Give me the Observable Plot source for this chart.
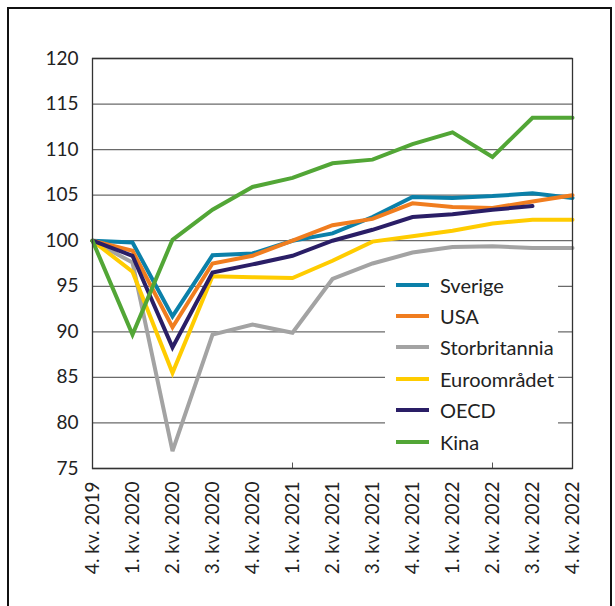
<!DOCTYPE html>
<html>
<head>
<meta charset="utf-8">
<script src="https://cdn.jsdelivr.net/npm/d3@7"></script>
<script src="https://cdn.jsdelivr.net/npm/@observablehq/plot@0.6"></script>
<style>
  html, body { margin: 0; padding: 0; background: #fff; }
  #page { position: relative; width: 615px; height: 606px; overflow: hidden; font-family: Lato, "Noto Sans", sans-serif; }
  #border { position: absolute; left: 7px; top: 7px; width: 605px; height: 640px; box-sizing: border-box; border: 2.5px solid #111; }
  #chart { position: absolute; left: 0; top: 0; }
  #legend { position: absolute; left: 385px; top: 263px; width: 173px; height: 196px; background: #fff; box-sizing: border-box; padding-top: 6px; }
  .item { display: flex; align-items: center; height: 31.4px; font-size: 20px; color: #222; }
  .sw { width: 33px; height: 4px; margin-left: 11px; margin-right: 11px; }
</style>
</head>
<body>
<div id="page">
  <div id="border"></div>
  <div id="chart"></div>
  <div id="legend"></div>
</div>
<script>
const quarters = ["4. kv. 2019","1. kv. 2020","2. kv. 2020","3. kv. 2020","4. kv. 2020","1. kv. 2021","2. kv. 2021","3. kv. 2021","4. kv. 2021","1. kv. 2022","2. kv. 2022","3. kv. 2022","4. kv. 2022"];
const seriesNames = ["Sverige","USA","Storbritannia","Euroområdet","OECD","Kina"];
const seriesColors = ["#0b80a9","#f07d1f","#a3a3a3","#ffcc00","#2a1e66","#52a636"];
const sverige       = [100, 99.8, 91.7, 98.4, 98.6, 100, 100.8, 102.6, 104.8, 104.7, 104.9, 105.2, 104.7];
const usa           = [100, 98.9, 90.5, 97.5, 98.35, 100, 101.7, 102.4, 104.1, 103.7, 103.6, 104.3, 105.0];
const storbritannia = [100, 97.6, 76.9, 89.7, 90.8, 89.9, 95.8, 97.5, 98.7, 99.3, 99.4, 99.2, 99.2];
const euroomradet   = [100, 96.6, 85.5, 96.1, 96.0, 95.9, 97.8, 99.9, 100.5, 101.1, 101.9, 102.3, 102.3];
const oecd          = [100, 98.35, 88.3, 96.5, 97.4, 98.35, 100, 101.2, 102.6, 102.9, 103.4, 103.8, null];
const kina          = [100, 89.7, 100.1, 103.4, 105.9, 106.9, 108.5, 108.9, 110.6, 111.9, 109.2, 113.5, 113.5];
const yTicks = [75, 80, 85, 90, 95, 100, 105, 110, 115, 120];
const smallTicks = ["1. kv. 2021", "2. kv. 2022"];

const seriesValues = [sverige, usa, storbritannia, euroomradet, oecd, kina];
const data = seriesNames.flatMap((name, k) =>
  seriesValues[k].map((v, i) => ({name, q: quarters[i], v})).filter(d => d.v != null));

const plot = Plot.plot({
  width: 615,
  height: 606,
  marginLeft: 92,
  marginRight: 43,
  marginTop: 58,
  marginBottom: 138,
  style: {fontFamily: "Lato, 'Noto Sans', sans-serif", fontSize: "19px", background: "transparent", color: "#222"},
  x: {type: "point", domain: quarters, padding: 0, label: null},
  y: {domain: [75, 120], label: null},
  color: {domain: seriesNames, range: seriesColors},
  marks: [
    Plot.ruleY(yTicks, {stroke: "#6a6a6a", strokeWidth: 1.3}),
    Plot.ruleX(smallTicks, {y1: 75, y2: 75.6, stroke: "#555", strokeWidth: 1}),
    Plot.lineY(data, {x: "q", y: "v", z: "name", stroke: "name", strokeWidth: 4, strokeLinejoin: "miter", strokeMiterlimit: 3}),
    Plot.frame({stroke: "#333", strokeWidth: 1.3}),
    Plot.axisY({ticks: yTicks, tickSize: 0, tickPadding: 14, fill: "#222", label: null}),
    Plot.axisX({tickSize: 0, tickPadding: 13, tickRotate: -90, fill: "#222", label: null})
  ]
});
document.getElementById("chart").appendChild(plot);

const legend = document.getElementById("legend");
seriesNames.forEach((name, k) => {
  const item = document.createElement("div");
  item.className = "item";
  const sw = document.createElement("span");
  sw.className = "sw";
  sw.style.background = seriesColors[k];
  const label = document.createElement("span");
  label.textContent = name;
  item.appendChild(sw);
  item.appendChild(label);
  legend.appendChild(item);
});
</script>
</body>
</html>
